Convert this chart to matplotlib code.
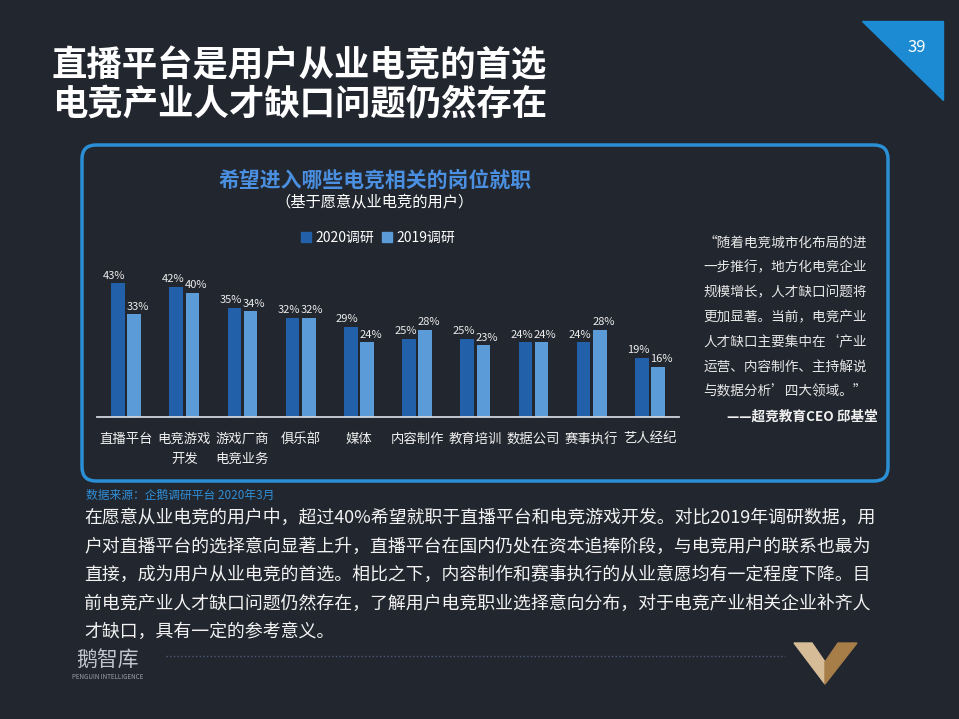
import matplotlib
matplotlib.use("Agg")
import matplotlib.pyplot as plt
from matplotlib.patches import FancyBboxPatch, Polygon, Patch

plt.rcParams['font.family'] = ['Noto Sans CJK SC', 'DejaVu Sans']

# data
categories = ["直播平台", "电竞游戏\n开发", "游戏厂商\n电竞业务", "俱乐部", "媒体",
              "内容制作", "教育培训", "数据公司", "赛事执行", "艺人经纪"]
values_2020 = [43, 42, 35, 32, 29, 25, 25, 24, 24, 19]
values_2019 = [33, 40, 34, 32, 24, 28, 23, 24, 28, 16]
series_names = ["2020调研", "2019调研"]

title_lines = ["直播平台是用户从业电竞的首选", "电竞产业人才缺口问题仍然存在"]
chart_title = "希望进入哪些电竞相关的岗位就职"
chart_subtitle = "（基于愿意从业电竞的用户）"
quote_lines = ["“随着电竞城市化布局的进", "一步推行，地方化电竞企业", "规模增长，人才缺口问题将",
               "更加显著。当前，电竞产业", "人才缺口主要集中在‘产业", "运营、内容制作、主持解说",
               "与数据分析’四大领域。”"]
quote_author = "——超竞教育CEO 邱基堂"
source = "数据来源：企鹅调研平台 2020年3月"
para_lines = ["在愿意从业电竞的用户中，超过40%希望就职于直播平台和电竞游戏开发。对比2019年调研数据，用",
              "户对直播平台的选择意向显著上升，直播平台在国内仍处在资本追捧阶段，与电竞用户的联系也最为",
              "直接，成为用户从业电竞的首选。相比之下，内容制作和赛事执行的从业意愿均有一定程度下降。目",
              "前电竞产业人才缺口问题仍然存在，了解用户电竞职业选择意向分布，对于电竞产业相关企业补齐人",
              "才缺口，具有一定的参考意义。"]

BG = "#22262e"
DARK = "#2261a9"
LIGHT = "#5b9bd8"
W, H = 959, 719

fig = plt.figure(figsize=(W / 100, H / 100), dpi=100, facecolor=BG)
bg = fig.add_axes([0, 0, 1, 1])
bg.set_xlim(0, W)
bg.set_ylim(H, 0)
bg.axis("off")
bg.set_facecolor(BG)

# page number triangle
bg.add_patch(Polygon([(862, 21), (943, 21), (943, 100)], closed=True, color="#1c8bd3"))
bg.text(917, 47, "39", color="white", fontsize=12, ha="center", va="center")

# title
bg.text(52, 66, title_lines[0], color="white", fontsize=25.5, fontweight="bold", va="center")
bg.text(52, 104, title_lines[1], color="white", fontsize=25.5, fontweight="bold", va="center")

# chart box
bg.add_patch(FancyBboxPatch((82, 145), 806, 336, boxstyle="round,pad=0,rounding_size=14",
                            fc="none", ec="#2b8fd6", lw=2.5))

bg.text(375, 180, chart_title, color="#4a8fe0", fontsize=15, fontweight="bold",
        ha="center", va="center")
bg.text(375, 203, chart_subtitle, color="white", fontsize=11, ha="center", va="center")

# quote
for i, line in enumerate(quote_lines):
    bg.text(867, 243 + i * 24.7, line, color="#e6e6e6", fontsize=9.8, ha="right", va="center")
bg.text(878, 417, quote_author, color="#f0f0f0", fontsize=9.8, fontweight="bold",
        ha="right", va="center")

# source & paragraph
bg.text(86, 495, source, color="#2f8fd8", fontsize=8.5, va="center")
for i, line in enumerate(para_lines):
    bg.text(84, 518 + i * 28.5, line, color="#f2f2f2", fontsize=12.9, va="center")

# footer logos
bg.text(76, 660, "鹅智库", color="#dde5ee", fontsize=15, va="center", alpha=0.85)
bg.text(72, 677, "PENGUIN INTELLIGENCE", color="#9aa4b0", fontsize=4.5, va="center")
bg.plot([166, 785], [656, 656], color="#4c5a78", lw=1, ls=":")
bg.add_patch(Polygon([(794, 643), (812, 643), (825, 662), (825, 684)], closed=True, color="#d6bd98"))
bg.add_patch(Polygon([(825, 662), (838, 643), (857, 643), (825, 684)], closed=True, color="#a77d48"))

# bar chart
ax = fig.add_axes([97 / W, 1 - 416.7 / H, 582 / W, 155 / H])
ax.patch.set_alpha(0)
x = list(range(len(categories)))
w = 0.235
b1 = ax.bar([i - 0.14 for i in x], values_2020, width=w, color=DARK)
b2 = ax.bar([i + 0.14 for i in x], values_2019, width=w, color=LIGHT)
for bars, vals, dx in ((b1, values_2020, -2.5), (b2, values_2019, 2.5)):
    for bar, v in zip(bars, vals):
        ax.annotate(f"{v}%", (bar.get_x() + bar.get_width() / 2, v), xytext=(dx, 2),
                    textcoords="offset points", ha="center", va="bottom",
                    color="#ececec", fontsize=8)
ax.set_xlim(-0.5, len(categories) - 0.5)
ax.set_ylim(0, 50)
ax.set_xticks(x)
ax.set_xticklabels(categories, color="#f0f0f0", fontsize=9.6, linespacing=1.5)
ax.tick_params(axis="x", length=0, pad=11)
ax.set_yticks([])
for s in ("top", "left", "right"):
    ax.spines[s].set_visible(False)
ax.spines["bottom"].set_color("#d0d6de")
ax.spines["bottom"].set_linewidth(1.3)

fig.legend(handles=[Patch(color=DARK), Patch(color=LIGHT)], labels=series_names,
           loc="center", bbox_to_anchor=(378 / W, 1 - 238 / H), ncol=2, frameon=False,
           fontsize=10, labelcolor="white", handlelength=0.7, handleheight=0.7,
           handletextpad=0.3, columnspacing=0.6)

fig.savefig("out.png", dpi=100, facecolor=BG)
